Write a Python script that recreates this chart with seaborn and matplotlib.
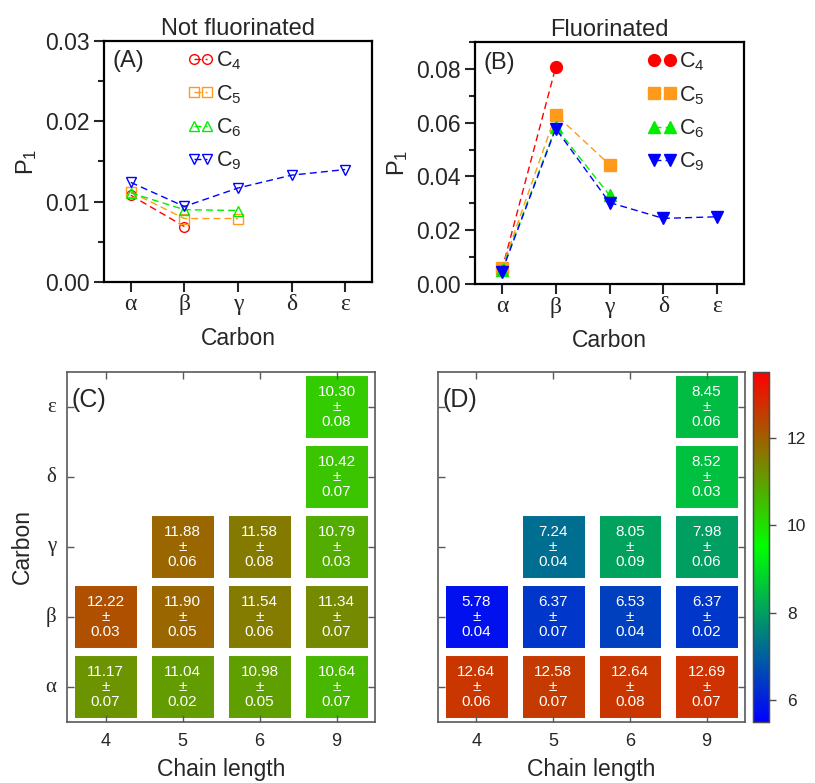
import numpy as np
import pandas as pd
import matplotlib
matplotlib.use('Agg')
import matplotlib.pyplot as plt
from matplotlib.colors import LinearSegmentedColormap
from matplotlib.ticker import MultipleLocator, FormatStrFormatter
import seaborn as sns

sns.set_style('ticks')
plt.rcParams['font.family'] = ['Liberation Sans', 'DejaVu Sans']
plt.rcParams['mathtext.default'] = 'regular'

# ============================================================
# Data
# ============================================================
carbons = ['α', 'β', 'γ', 'δ', 'ε']
chain_lengths = [4, 5, 6, 9]
series_names = ['$C_4$', '$C_5$', '$C_6$', '$C_9$']
series_colors = ['#ff0000', '#ff9a1a', '#00ee00', '#0000ff']
series_markers = ['o', 's', '^', 'v']

# P1 per carbon (alpha first), not fluorinated
p1_nf_c4 = [0.0108, 0.0069]
p1_nf_c5 = [0.0112, 0.0079, 0.0079]
p1_nf_c6 = [0.0111, 0.0090, 0.0089]
p1_nf_c9 = [0.0124, 0.0094, 0.0117, 0.0133, 0.0140]

# P1 per carbon, fluorinated
p1_f_c4 = [0.0052, 0.0806]
p1_f_c5 = [0.0058, 0.0630, 0.0444]
p1_f_c6 = [0.0052, 0.0583, 0.0330]
p1_f_c9 = [0.0046, 0.0578, 0.0303, 0.0244, 0.0250]

# heat maps: mean and error per carbon (alpha first) for each chain length
nf_mean_c4 = [11.17, 12.22]
nf_mean_c5 = [11.04, 11.90, 11.88]
nf_mean_c6 = [10.98, 11.54, 11.58]
nf_mean_c9 = [10.64, 11.34, 10.79, 10.42, 10.30]
nf_err_c4 = [0.07, 0.03]
nf_err_c5 = [0.02, 0.05, 0.06]
nf_err_c6 = [0.05, 0.06, 0.08]
nf_err_c9 = [0.07, 0.07, 0.03, 0.07, 0.08]

f_mean_c4 = [12.64, 5.78]
f_mean_c5 = [12.58, 6.37, 7.24]
f_mean_c6 = [12.64, 6.53, 8.05]
f_mean_c9 = [12.69, 6.37, 7.98, 8.52, 8.45]
f_err_c4 = [0.06, 0.04]
f_err_c5 = [0.07, 0.07, 0.04]
f_err_c6 = [0.08, 0.04, 0.09]
f_err_c9 = [0.07, 0.02, 0.06, 0.03, 0.06]

cbar_ticks = [6, 8, 10, 12]
vmin, vmax = 5.5, 13.5


def to_frame(cols):
    m = np.full((len(carbons), len(cols)), np.nan)
    for j, col in enumerate(cols):
        m[:len(col), j] = col
    # top row = epsilon
    return pd.DataFrame(m[::-1], index=carbons[::-1], columns=chain_lengths)


def annot_frame(means, errs):
    mdf = to_frame(means)
    edf = to_frame(errs)
    txt = np.empty(mdf.shape, dtype=object)
    for i in range(mdf.shape[0]):
        for j in range(mdf.shape[1]):
            v = mdf.iat[i, j]
            txt[i, j] = '' if np.isnan(v) else f'{v:.2f}\n±\n{edf.iat[i, j]:.2f}'
    return mdf, txt


cmap = LinearSegmentedColormap.from_list('bgr', ['#0000ff', '#00ff00', '#ff0000'])

fig = plt.figure(figsize=(8.15, 7.83), dpi=100)
W, H = 815, 783


def rect(l, t, r, b):
    return [l / W, 1 - b / H, (r - l) / W, (b - t) / H]


ax_a = fig.add_axes(rect(104, 41, 372, 282))
ax_b = fig.add_axes(rect(475, 42, 744, 284))
ax_c = fig.add_axes(rect(67, 372, 375, 722))
ax_d = fig.add_axes(rect(438, 372, 745, 722))
ax_cb = fig.add_axes(rect(753, 372, 769, 722))

# ============================================================
# Panels A and B: P1 profiles
# ============================================================
panels = [
    (ax_a, [p1_nf_c4, p1_nf_c5, p1_nf_c6, p1_nf_c9], False, 'Not fluorinated', '(A)',
     (0.0, 0.03), 0.01, 0.005, (0.28, 1.0), 7, 1.2),
    (ax_b, [p1_f_c4, p1_f_c5, p1_f_c6, p1_f_c9], True, 'Fluorinated', '(B)',
     (0.0, 0.09), 0.02, 0.01, (0.61, 1.0), 8.5, 1.32),
]
for ax, data, filled, title, tag, ylim, major, minor, leg_anchor, ms, hl in panels:
    for vals, name, col, mk in zip(data, series_names, series_colors, series_markers):
        sns.lineplot(x=np.arange(len(vals)), y=vals, ax=ax, color=col, marker=mk,
                     linestyle=(0, (5, 3)), linewidth=1.0, markersize=ms,
                     markerfacecolor=col if filled else 'none', markeredgecolor=col,
                     markeredgewidth=1.0, label=name, sort=False)
    ax.set_xlim(-0.5, 4.5)
    ax.set_ylim(*ylim)
    ax.set_xticks(range(len(carbons)))
    ax.set_xticklabels(carbons, fontfamily='Liberation Serif', fontsize=17)
    ax.yaxis.set_major_locator(MultipleLocator(major))
    ax.yaxis.set_minor_locator(MultipleLocator(minor))
    ax.yaxis.set_major_formatter(FormatStrFormatter('%.2f'))
    ax.tick_params(axis='y', which='major', labelsize=16.5, length=7, width=1.5)
    ax.tick_params(axis='y', which='minor', length=4, width=1.5)
    ax.tick_params(axis='x', length=7, width=1.5, pad=2)
    for s in ax.spines.values():
        s.set_linewidth(1.6)
        s.set_color('black')
    ax.set_xlabel('Carbon', fontsize=16.5, labelpad=8)
    ax.set_ylabel('P$_1$', fontsize=17, labelpad=4)
    ax.set_title(title, fontsize=17, pad=4)
    ax.text(0.03, 0.915, tag, transform=ax.transAxes, fontsize=17, va='center', ha='left')
    ax.legend(loc='upper left', bbox_to_anchor=leg_anchor, frameon=False, numpoints=2,
              handlelength=hl, handletextpad=0.12, labelspacing=0.5, fontsize=15.5,
              borderaxespad=0.0)

# ============================================================
# Panels C and D: heat maps
# ============================================================
nf_df, nf_txt = annot_frame([nf_mean_c4, nf_mean_c5, nf_mean_c6, nf_mean_c9],
                            [nf_err_c4, nf_err_c5, nf_err_c6, nf_err_c9])
f_df, f_txt = annot_frame([f_mean_c4, f_mean_c5, f_mean_c6, f_mean_c9],
                          [f_err_c4, f_err_c5, f_err_c6, f_err_c9])

annot_kws = {'color': 'white', 'fontsize': 11, 'linespacing': 1.05}
sns.heatmap(nf_df, ax=ax_c, cmap=cmap, vmin=vmin, vmax=vmax, annot=nf_txt, fmt='',
            annot_kws=annot_kws, cbar=False, mask=nf_df.isna())
sns.heatmap(f_df, ax=ax_d, cmap=cmap, vmin=vmin, vmax=vmax, annot=f_txt, fmt='',
            annot_kws=annot_kws, cbar=True, cbar_ax=ax_cb, mask=f_df.isna(),
            cbar_kws={'ticks': cbar_ticks})

for ax, tag in [(ax_c, '(C)'), (ax_d, '(D)')]:
    # white gaps between the boxes
    for xv in range(len(chain_lengths) + 1):
        ax.axvline(xv, color='white', linewidth=10.8, zorder=2)
    for yv in range(len(carbons) + 1):
        ax.axhline(yv, color='white', linewidth=5.8, zorder=2)
    ax.set_axisbelow(False)
    for s in ax.spines.values():
        s.set_visible(True)
        s.set_color('0.35')
        s.set_linewidth(1.2)
        s.set_zorder(3)
    ax.tick_params(direction='in', top=True, right=True, length=5, width=1.0,
                   color='0.35', labelsize=13, pad=8)
    ax.set_xticklabels([str(c) for c in chain_lengths], rotation=0)
    ax.set_xlabel('Chain length', fontsize=16.5, labelpad=6)
    ax.text(0.015, 0.92, tag, transform=ax.transAxes, fontsize=18, va='center', ha='left')

ax_c.set_yticklabels(carbons[::-1], rotation=0, fontfamily='Liberation Serif', fontsize=15)
ax_c.set_ylabel('Carbon', fontsize=16.5, labelpad=8)
ax_d.set_yticklabels([])
ax_d.set_ylabel('')

ax_cb.tick_params(labelsize=12.5, length=5, width=1.0, color='0.3', pad=8)
for s in ax_cb.spines.values():
    s.set_visible(True)
cb = ax_d.collections[0].colorbar
cb.outline.set_edgecolor('0.3')
cb.outline.set_linewidth(1.0)

plt.savefig('out.png', dpi=100)
